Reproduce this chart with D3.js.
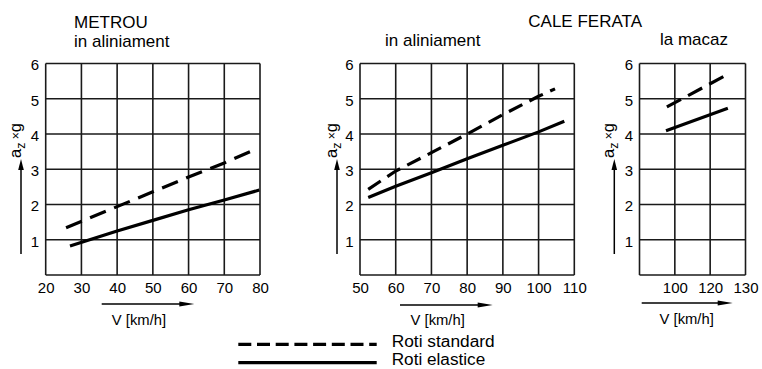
<!DOCTYPE html>
<html>
<head>
<meta charset="utf-8">
<script src="https://cdn.jsdelivr.net/npm/d3@7"></script>
<style>
  html, body { margin: 0; padding: 0; background: #fff; }
  svg { display: block; }
  text { font-family: "Liberation Sans", Arial, Helvetica, sans-serif; fill: #000; }
</style>
</head>
<body>
<svg id="chart" width="762" height="369"></svg>
<script>
// ---------------- DATA ----------------
const yTicks = [1, 2, 3, 4, 5, 6];
const metrouTicks = [20, 30, 40, 50, 60, 70, 80];
const caleTicks = [50, 60, 70, 80, 90, 100, 110];
const macazTicks = [100, 120, 130];
const macazBreaks = [80, 100, 120, 130];

// [V km/h, a_z x g]
const metrouStandard = [[25.7, 1.34], [40, 1.94], [50, 2.36], [60, 2.78], [70, 3.18], [77.7, 3.52]];
const metrouElastice = [[26.8, 0.82], [40, 1.25], [50, 1.55], [60, 1.85], [70, 2.13], [79.8, 2.41]];
const caleStandard = [[52.3, 2.43], [60, 2.95], [70, 3.47], [80, 4.0], [90, 4.55], [100, 5.07], [104.6, 5.28]];
const caleElastice = [[52.3, 2.2], [60, 2.52], [70, 2.9], [80, 3.3], [90, 3.68], [100, 4.06], [107.2, 4.36]];
const macazStandard = [[95.5, 4.77], [125.5, 5.72]];
const macazElastice = [[95, 4.09], [125, 4.73]];

const titleMain1 = "METROU";
const titleMain2 = "CALE FERATA";
const subAliniament = "in aliniament";
const subMacaz = "la macaz";
const xLabel = "V [km/h]";
const legendLabels = ["Roti standard", "Roti elastice"];

// ---------------- LAYOUT ----------------
const svg = d3.select("#chart");
const TOP = 63.5, BOTTOM = 275;
const y = d3.scaleLinear().domain([0, 6]).range([BOTTOM, TOP]);

const panels = [
  { x: d3.scaleLinear().domain([20, 80]).range([45.7, 260]), ticks: metrouTicks, vlines: metrouTicks,
    std: metrouStandard, ela: metrouElastice, yArrowX: 21, xArrow: [101.7, 194.3, 304], xLab: [139, 325], dash: "17,9" },
  { x: d3.scaleLinear().domain([50, 110]).range([360, 574.3]), ticks: caleTicks, vlines: caleTicks,
    std: caleStandard, ela: caleElastice, yArrowX: 337, xArrow: [400, 492.7, 305], xLab: [437.7, 325], dash: "15,8" },
  { x: d3.scaleLinear().domain(macazBreaks).range([639.5, 639.5 + 106 / 3, 639.5 + 212 / 3, 745.5]), ticks: macazTicks, vlines: macazBreaks,
    std: macazStandard, ela: macazElastice, yArrowX: 614.3, xArrow: [641.7, 732.7, 303], xLab: [686.7, 323.5], dash: "16,8" }
];

const gridColor = "#1a1a1a";

panels.forEach(p => {
  const g = svg.append("g");
  const [x0, x1] = [p.x.range()[0], p.x.range()[p.x.range().length - 1]];

  // horizontal grid lines
  g.selectAll(".hl").data([0].concat(yTicks)).enter().append("line")
    .attr("x1", x0).attr("x2", x1)
    .attr("y1", d => y(d)).attr("y2", d => y(d))
    .attr("stroke", gridColor).attr("stroke-width", 1.6);
  // vertical grid lines
  g.selectAll(".vl").data(p.vlines).enter().append("line")
    .attr("x1", d => p.x(d)).attr("x2", d => p.x(d))
    .attr("y1", y(0)).attr("y2", y(6))
    .attr("stroke", gridColor).attr("stroke-width", 1.6);

  // axes (labels only)
  const ax = g.append("g").attr("transform", `translate(0,${BOTTOM})`)
    .call(d3.axisBottom(p.x).tickValues(p.ticks).tickSize(0).tickPadding(7.5).tickFormat(d3.format("d")));
  ax.select(".domain").remove();
  ax.selectAll("text").attr("font-size", 15).attr("font-family", "Liberation Sans, Arial, sans-serif").attr("fill", "#000");

  const ay = g.append("g").attr("transform", `translate(${x0},0)`)
    .call(d3.axisLeft(y).tickValues(yTicks).tickSize(0).tickPadding(6.5).tickFormat(d3.format("d")));
  ay.select(".domain").remove();
  ay.selectAll("text").attr("font-size", 15).attr("dy", "0.42em").attr("font-family", "Liberation Sans, Arial, sans-serif").attr("fill", "#000");

  // series lines
  const line = d3.line().x(d => p.x(d[0])).y(d => y(d[1]));
  g.append("path").datum(p.std).attr("d", line)
    .attr("fill", "none").attr("stroke", "#000").attr("stroke-width", 3.2)
    .attr("stroke-dasharray", p.dash);
  g.append("path").datum(p.ela).attr("d", line)
    .attr("fill", "none").attr("stroke", "#000").attr("stroke-width", 3.2);

  // vertical arrow
  const ax0 = p.yArrowX;
  g.append("line").attr("x1", ax0).attr("x2", ax0).attr("y1", 254).attr("y2", 166)
    .attr("stroke", "#000").attr("stroke-width", 1.5);
  g.append("path").attr("d", `M${ax0},159 L${ax0 - 2.8},170 L${ax0 + 2.8},170 Z`).attr("fill", "#000");

  // y label rotated
  const yl = g.append("text")
    .attr("transform", `translate(${ax0 - 0.5},158) rotate(-90)`)
    .attr("font-size", 16.5);
  yl.append("tspan").text("a");
  yl.append("tspan").attr("font-size", 12.5).attr("dy", 4).text("z");
  yl.append("tspan").attr("font-size", 12).attr("dy", -5).text(" \u00D7");
  yl.append("tspan").attr("dy", 1).text("g");

  // horizontal arrow
  const [hx0, hx1, hy] = p.xArrow;
  g.append("line").attr("x1", hx0).attr("x2", hx1 - 10).attr("y1", hy).attr("y2", hy)
    .attr("stroke", "#000").attr("stroke-width", 1.5);
  g.append("path").attr("d", `M${hx1},${hy} L${hx1 - 15},${hy - 2.6} L${hx1 - 15},${hy + 2.6} Z`).attr("fill", "#000");

  g.append("text").attr("x", p.xLab[0]).attr("y", p.xLab[1])
    .attr("text-anchor", "middle").attr("font-size", 14.8).text(xLabel);
});

// titles
svg.append("text").attr("x", 74).attr("y", 28).attr("font-size", 17).text(titleMain1);
svg.append("text").attr("x", 74).attr("y", 46.5).attr("font-size", 17).text(subAliniament);
svg.append("text").attr("x", 528.3).attr("y", 27).attr("font-size", 17).text(titleMain2);
svg.append("text").attr("x", 385).attr("y", 46).attr("font-size", 17).text(subAliniament);
svg.append("text").attr("x", 660).attr("y", 45).attr("font-size", 17).text(subMacaz);

// legend
const leg = svg.append("g");
const legendStyles = [
  { dash: "13,5.7", y: 344.3, ty: 347.3, len: 103 },
  { dash: null, y: 362.7, ty: 365.3, len: 93.5 }
];
legendLabels.forEach((lab, i) => {
  const s = legendStyles[i];
  const ln = leg.append("line").attr("x1", 238.3).attr("x2", 376.7).attr("y1", s.y).attr("y2", s.y)
    .attr("stroke", "#000").attr("stroke-width", 3.2);
  if (s.dash) ln.attr("stroke-dasharray", s.dash);
  leg.append("text").attr("x", 391.7).attr("y", s.ty).attr("font-size", 15.8)
    .attr("textLength", s.len).attr("lengthAdjust", "spacingAndGlyphs").text(lab);
});
</script>
</body>
</html>
